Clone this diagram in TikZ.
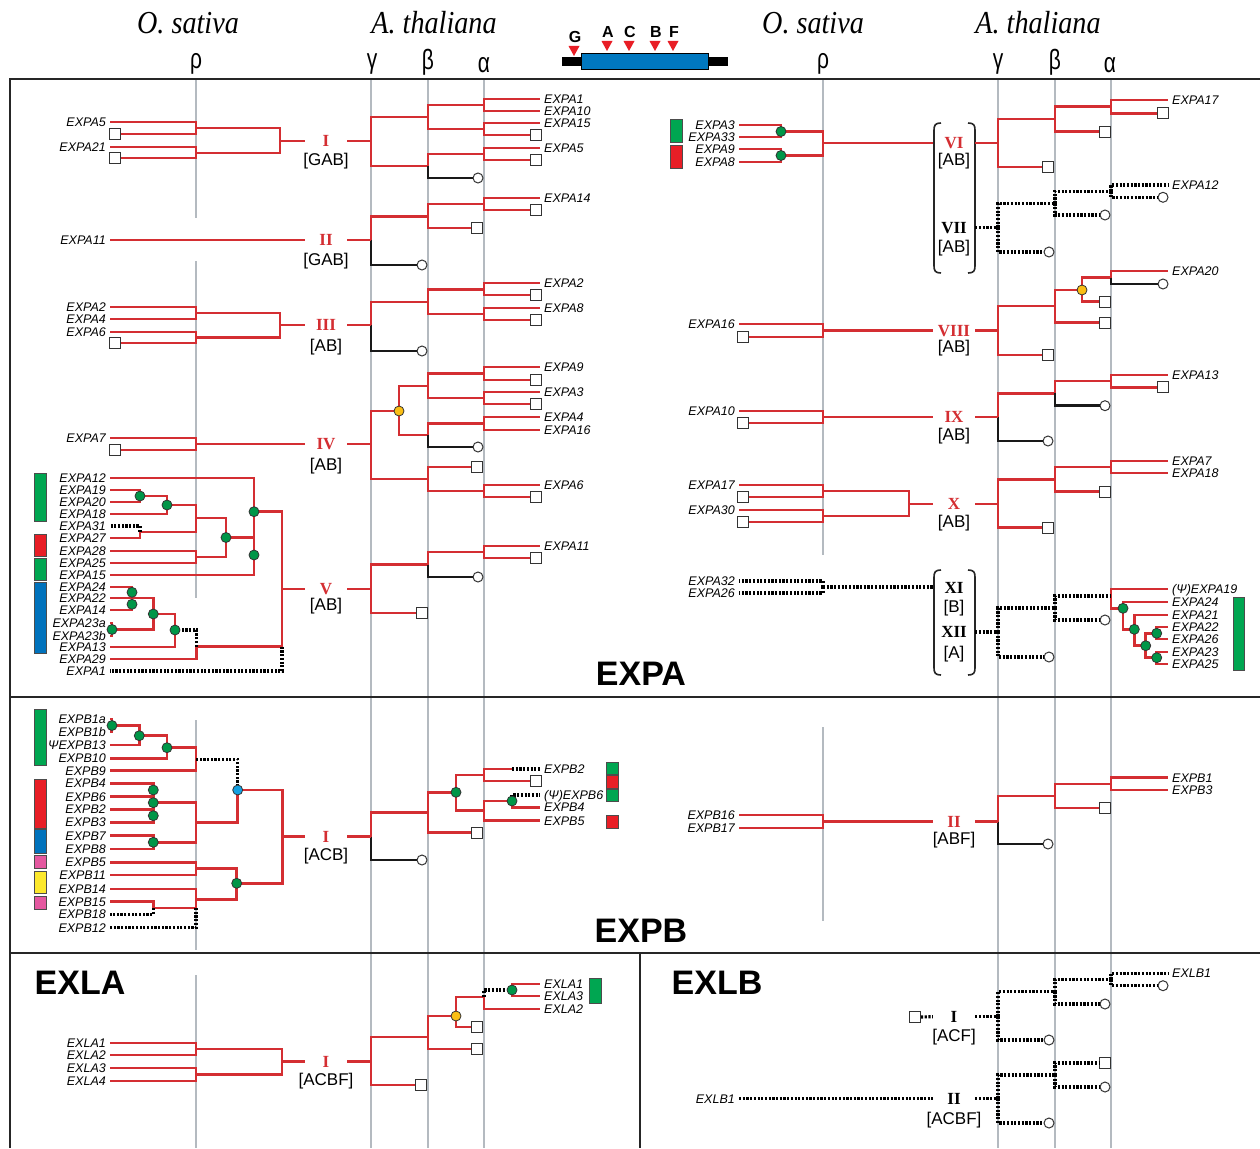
\documentclass[tikz,border=0pt]{standalone}
\usepackage{fontspec}
\setmainfont{Liberation Serif}
\setsansfont{Liberation Sans}
\usetikzlibrary{positioning}

\definecolor{treered}{RGB}{212,46,50}
\definecolor{dotgreen}{RGB}{0,150,72}
\definecolor{bargreen}{RGB}{0,166,81}
\definecolor{barred}{RGB}{232,30,38}
\definecolor{barblue}{RGB}{0,114,188}
\definecolor{barpink}{RGB}{228,88,160}
\definecolor{baryellow}{RGB}{252,232,44}
\definecolor{dotyellow}{RGB}{250,190,20}
\definecolor{dotblue}{RGB}{20,160,225}
\definecolor{axisgray}{RGB}{180,186,192}
\definecolor{exonblue}{RGB}{0,120,192}

\newcommand{\genefont}{\fontsize{12.5}{13}\selectfont\sffamily\itshape}
\newcommand{\cladefont}{\fontsize{17}{17}\selectfont\rmfamily\bfseries}
\newcommand{\motiffont}{\fontsize{17}{17}\selectfont\sffamily}

\tikzset{
  tr/.style={draw=treered, line width=2.9pt},
  tk/.style={draw=black!90, line width=2.6pt},
  td/.style={draw=black, line width=3.2pt, dash pattern=on 2.2pt off 1.5pt},
  axisline/.style={draw=axisgray, line width=1.1pt},
  frame/.style={draw=black!85, line width=2.4pt},
  sq/.style={draw=black!80, fill=white, line width=1pt, minimum size=11pt, inner sep=0pt},
  lost/.style={circle, draw=black!80, fill=white, line width=1pt, minimum size=10pt, inner sep=0pt},
  gdot/.style={circle, draw=black!80, fill=dotgreen, line width=0.8pt, minimum size=10pt, inner sep=0pt},
  ydot/.style={gdot, fill=dotyellow},
  bdot/.style={gdot, fill=dotblue},
  gl/.style={anchor=east, font=\genefont, inner xsep=4pt, inner ysep=0pt, text height=9pt, text depth=0pt},
  gr/.style={gl, anchor=west},
  clade/.style={font=\cladefont, text=treered, minimum width=42pt, inner sep=0pt, text height=11.5pt, text depth=0pt},
  cladek/.style={clade, text=black},
  motifs/.style={font=\motiffont, inner sep=0pt},
  family/.style={font=\fontsize{34}{34}\selectfont\sffamily\bfseries},
  species/.style={font=\fontsize{32}{32}\selectfont\rmfamily\itshape},
  greek/.style={font=\fontsize{28}{28}\selectfont\sffamily},
  sitelab/.style={font=\fontsize{16}{16}\selectfont\sffamily\bfseries},
  brk/.style={draw=black!85, line width=1.6pt},
  bar/.style={draw=black!70, line width=0.8pt},
}

\begin{document}
\begin{tikzpicture}[x=1pt,y=-1pt]
\fill[white] (0,0) rectangle (1260,1148);
\useasboundingbox (0,0) rectangle (1260,1148);

% Axis lines (rho, gamma, beta, alpha)
\foreach \x/\ya/\yb in {196/79/218, 196/261/598, 196/720/950, 196/975/1148,
  371/79/1148, 428/79/1148, 484/79/1148, 823/79/555, 823/727/921,
  998/79/1148, 1055/79/1148, 1111/79/1148}
  \draw[axisline] (\x,\ya) -- (\x,\yb);

% Frame
\draw[frame] (1260,79) -- (10,79) -- (10,1148);
\draw[frame] (10,697) -- (1260,697);
\draw[frame] (10,953) -- (1260,953);
\draw[frame] (640,953) -- (640,1148);

% Header
\node[species] (osL) at (188,23) {\scalebox{0.88}[1]{O. sativa}};
\node[species] (atL) at (434,23) {\scalebox{0.88}[1]{A. thaliana}};
\node[species] (osR) at (813,23) {\scalebox{0.88}[1]{O. sativa}};
\node[species] (atR) at (1038,23) {\scalebox{0.88}[1]{A. thaliana}};
\foreach \x/\y/\g in {196/64/ρ, 372/64/γ, 428/62/β, 484/65/α, 823/64/ρ, 998/64/γ, 1055/62/β, 1110/65/α}
  \node[greek] at (\x,\y) {\scalebox{0.75}[1]{\g}};

% Gene structure with intron sites
\fill[black] (562,57) rectangle (728,66);
\draw[fill=exonblue, line width=0.9pt] (581,53) rectangle (708,69);
\foreach \x/\y/\t in {574/46/G, 607/41/A, 629/41/C, 655/41/B, 673/41/F}{
  \fill[barred] (\x-5.5,\y) -- (\x+5.5,\y) -- (\x,\y+10) -- cycle;
  \node[sitelab] at (\x+1,\y-9) {\t};
}

% ===================== EXPA, left panel =====================
\foreach \n/\y/\t in {LA5/122/EXPA5, LA21/147/EXPA21, LA11/240/EXPA11, LA2/307/EXPA2,
  LA4/319/EXPA4, LA6/332/EXPA6, LA7/438/EXPA7, LA12/478/EXPA12, LA19/490/EXPA19,
  LA20/502/EXPA20, LA18/514/EXPA18, LA31/526/EXPA31, LA27/538/EXPA27, LA28/551/EXPA28,
  LA25/563/EXPA25, LA15/575/EXPA15, LA24/587/EXPA24, LA22/598/EXPA22, LA14/610/EXPA14,
  LA23a/623/EXPA23a, LA23b/636/EXPA23b, LA13/647/EXPA13, LA29/659/EXPA29, LA1/671/EXPA1}
  \node[gl] (\n) at (110,\y) {\t};
\foreach \n/\y in {Lq1/134, Lq2/158, Lq3/343, Lq4/450}
  \node[sq] (\n) at (115,\y) {};
\foreach \n/\x/\y in {L1/196/128, L2/196/153, L3/280/141, L4/196/313, L5/196/337.5,
  L6/280/325, L7/196/444, V1/140/496, V2/167/505, V3/140/532, V4/196/518, V5/196/557,
  V6/226/537.5, V7/254/555, V8/254/511.7, V9/132/592.3, V9b/132/604.3, V10/153.3/614,
  V11/112/629.5, V12/175/630, V13/196.7/646.7, V14/282/589, V15/282/646.7}
  \coordinate (\n) at (\x,\y);

\foreach \n/\y/\t in {MA1/99/EXPA1, MA10/111/EXPA10, MA15/123/EXPA15, MA5/148/EXPA5,
  MA14/198/EXPA14, MA2/283/EXPA2, MA8/308/EXPA8, MA9/367/EXPA9, MA3/392/EXPA3,
  MA4/417/EXPA4, MA16/430/EXPA16, MA6/485/EXPA6, MA11/546/EXPA11}
  \node[gr] (\n) at (540,\y) {\t};
\foreach \n/\x/\y in {Mq1/536/135, Mq2/536/160, Mq3/536/210, Mq4/477/228, Mq5/536/295,
  Mq6/536/320, Mq7/536/380, Mq8/536/404, Mq9/477/467, Mq10/536/497, Mq11/536/558, Mq12/422/613}
  \node[sq] (\n) at (\x,\y) {};
\foreach \n/\x/\y in {Mo1/478/178, Mo2/422/265, Mo3/422/351, Mo4/478/447, Mo5/478/577}
  \node[lost] (\n) at (\x,\y) {};
\foreach \n/\x/\y in {Ig/371/141, Ib1/428/117, Ib2/428/166, Ia1/484/105, Ia2/484/129,
  Ia3/484/154, IIg/371/240, IIb/428/216.5, IIa/484/204, IIIg/371/325, IIIb/428/302,
  IIIa1/484/289.5, IIIa2/484/314, IVg/371/444, IVy/399/411, IVb1/428/386, IVb2/428/435,
  IVb3/428/479, IVa1/484/373.5, IVa2/484/398, IVa3/484/423.5, IVa4/484/491,
  Vg/371/589, Vb/428/564.5, Va/484/552}
  \coordinate (\n) at (\x,\y);

% clade labels
\foreach \n/\y/\t in {I/141/I, II/240/II, III/325/III, IV/444/IV, V/589/V}
  \node[clade] (c\n) at (326,\y) {\t};
\foreach \y/\t in {161/[GAB], 261/[GAB], 347/[AB], 466/[AB], 606/[AB]}
  \node[motifs] at (326,\y) {\t};

% branches
\foreach \a/\b in {L1/LA5, L1/Lq1, L2/LA21, L2/Lq2, L3/L1, L3/L2, L4/LA2, L4/LA4,
  L5/LA6, L5/Lq3, L6/L4, L6/L5, L7/LA7, L7/Lq4, V1/LA19, V1/LA20, V2/V1, V2/LA18,
  V3/LA27, V4/V2, V4/V3, V5/LA28, V5/LA25, V6/V4, V6/V5, V7/V6, V7/LA15, V8/LA12,
  V8/V7, V9/LA24, V9b/LA14, V9/V9b, V10/LA22, V10/V11, V11/LA23a, V11/LA23b,
  V12/V10, V12/LA13, V13/LA29, V14/V8, V14/V13,
  Ig/Ib1, Ig/Ib2, Ib1/Ia1, Ib1/Ia2, Ia1/MA1, Ia1/MA10, Ia2/MA15, Ia2/Mq1, Ib2/Ia3,
  Ia3/MA5, Ia3/Mq2, IIg/IIb, IIb/IIa, IIb/Mq4, IIa/MA14, IIa/Mq3, IIIg/IIIb,
  IIIb/IIIa1, IIIb/IIIa2, IIIa1/MA2, IIIa1/Mq5, IIIa2/MA8, IIIa2/Mq6, IVg/IVy,
  IVg/IVb3, IVy/IVb1, IVy/IVb2, IVb1/IVa1, IVb1/IVa2, IVa1/MA9, IVa1/Mq7, IVa2/MA3,
  IVa2/Mq8, IVb2/IVa3, IVa3/MA4, IVa3/MA16, IVb3/Mq9, IVb3/IVa4, IVa4/MA6, IVa4/Mq10,
  Vg/Vb, Vg/Mq12, Vb/Va, Va/MA11, Va/Mq11}
  \draw[tr] (\a) |- (\b);
\foreach \a/\b in {Ib2/Mo1, IIg/Mo2, IIIg/Mo3, IVb2/Mo4, Vb/Mo5}
  \draw[tk] (\a) |- (\b);
\foreach \a/\b in {V3/LA31, V13/V12, V15/LA1}
  \draw[td] (\a) |- (\b);
\foreach \a/\b/\c in {L3/cI/Ig, LA11/cII/IIg, L6/cIII/IIIg, L7/cIV/IVg, V14/cV/Vg}{
  \draw[tr] (\a) -- (\b);
  \draw[tr] (\b) -- (\c);
}
\foreach \n in {V1, V2, V6, V7, V8, V9, V9b, V10, V11, V12}
  \node[gdot] at (\n) {};
\node[ydot] at (IVy) {};
\foreach \c/\ya/\yb in {bargreen/473/521, barred/534/556, bargreen/558/580, barblue/582/653}
  \draw[bar, fill=\c] (34,\ya) rectangle (46.5,\yb);

\node[family] (famA) at (641,674) {EXPA};

% ===================== EXPA, right panel =====================
\foreach \n/\y/\t in {RA3/125/EXPA3, RA33/137/EXPA33, RA9/149/EXPA9, RA8/162/EXPA8,
  RA16/324/EXPA16, RA10/411/EXPA10, RA17/485/EXPA17, RA30/510/EXPA30,
  RA32/581/EXPA32, RA26/593/EXPA26}
  \node[gl] (\n) at (739,\y) {\t};
\foreach \n/\y in {Rq1/337, Rq2/423, Rq3/497, Rq4/522}
  \node[sq] (\n) at (743,\y) {};
\foreach \n/\x/\y in {R1/781/131.5, R2/781/155.5, R3/823/143, R4/823/330.5, R5/823/417,
  R6/823/491, R7/823/516, R8/909/504, R9/823/587}
  \coordinate (\n) at (\x,\y);

\foreach \n/\y/\t in {SA17/100/EXPA17, SA12/185/EXPA12, SA20/271/EXPA20, SA13/375/EXPA13,
  SA7/461/EXPA7, SA18/473/EXPA18, SA19/589/{(Ψ)EXPA19}, SA24/602/EXPA24, SA21/615/EXPA21,
  SA22/627/EXPA22, SA26/639/EXPA26, SA23/652/EXPA23, SA25/664/EXPA25}
  \node[gr] (\n) at (1168,\y) {\t};
\foreach \n/\x/\y in {Sq1/1163/113.3, Sq2/1105/131.7, Sq3/1048/167, Sq4/1105/301.7,
  Sq5/1105/322.7, Sq6/1048/355, Sq7/1163/387.3, Sq8/1105/491.7, Sq9/1048/527.7}
  \node[sq] (\n) at (\x,\y) {};
\foreach \n/\x/\y in {So1/1163/197.3, So2/1105/215, So3/1049/252, So4/1163/284,
  So5/1105/405.7, So6/1048/441, So7/1105/620, So8/1049/657}
  \node[lost] (\n) at (\x,\y) {};
\foreach \n/\x/\y in {VIg/998/143, VIb/1055/119, VIa/1111/106.7, VIIg/998/227.5,
  VIIb/1055/203.3, VIIa/1111/191.3, VIIIg/998/330.5, VIIIb/1055/306, VIIIy/1082/290,
  VIIIa/1111/277.5, IXg/998/417, IXb/1055/393.3, IXa/1111/381, Xg/998/504,
  Xb/1055/479.5, Xa/1111/467, XIg/998/632, XIb/1055/608, XIa/1111/596,
  G1/1123/608.3, G2/1134.3/629.3, G3/1145.7/645.7, G4/1156.7/633.3, G5/1156.7/657.7}
  \coordinate (\n) at (\x,\y);

\foreach \n/\y/\t in {VI/143/VI, VIII/330.5/VIII, IX/417/IX, X/504/X}
  \node[clade] (c\n) at (954,\y) {\t};
\foreach \n/\y/\t in {VII/227.5/VII, XI/588/XI, XII/632/XII}
  \node[cladek] (c\n) at (954,\y) {\t};
\foreach \y/\t in {161/[AB], 248/[AB], 348/[AB], 436/[AB], 523/[AB], 608/[B], 654/[A]}
  \node[motifs] at (954,\y) {\t};

% brackets round VI/VII and XI/XII
\foreach \ya/\yb in {123/273, 570/675}{
  \draw[brk] (941,\ya) .. controls (935.5,\ya) and (934,\ya+2) .. (934,\ya+7)
    -- (934,\yb-7) .. controls (934,\yb-2) and (935.5,\yb) .. (941,\yb);
  \draw[brk] (968,\ya) .. controls (973.5,\ya) and (975,\ya+2) .. (975,\ya+7)
    -- (975,\yb-7) .. controls (975,\yb-2) and (973.5,\yb) .. (968,\yb);
}

\foreach \a/\b in {R1/RA3, R1/RA33, R2/RA9, R2/RA8, R3/R1, R3/R2, R4/RA16, R4/Rq1,
  R5/RA10, R5/Rq2, R6/RA17, R6/Rq3, R7/RA30, R7/Rq4, R8/R6, R8/R7,
  VIg/VIb, VIg/Sq3, VIb/VIa, VIb/Sq2, VIa/SA17, VIa/Sq1, VIIIg/VIIIb, VIIIg/Sq6,
  VIIIb/VIIIy, VIIIb/Sq5, VIIIy/VIIIa, VIIIy/Sq4, VIIIa/SA20, IXg/IXb, IXb/IXa,
  IXa/SA13, IXa/Sq7, Xg/Xb, Xg/Sq9, Xb/Xa, Xb/Sq8, Xa/SA7, Xa/SA18, XIa/SA19, XIa/G1,
  G1/SA24, G1/G2, G2/SA21, G2/G3, G3/G4, G3/G5, G4/SA22, G4/SA26, G5/SA23, G5/SA25}
  \draw[tr] (\a) |- (\b);
\foreach \a/\b in {VIIIa/So4, IXg/So6, IXb/So5}
  \draw[tk] (\a) |- (\b);
\foreach \a/\b in {R9/RA32, R9/RA26, VIIg/VIIb, VIIg/So3, VIIb/VIIa, VIIb/So2,
  VIIa/SA12, VIIa/So1, XIg/XIb, XIg/So8, XIb/XIa, XIb/So7}
  \draw[td] (\a) |- (\b);
\draw[tr] (R3) -- (cVI);
\draw[tr] (cVI) -- (VIg);
\draw[td] (cVII) -- (VIIg);
\foreach \a/\b/\c in {R4/cVIII/VIIIg, R5/cIX/IXg, R8/cX/Xg}{
  \draw[tr] (\a) -- (\b);
  \draw[tr] (\b) -- (\c);
}
\draw[td] (R9) -- (934,587);
\draw[td] (cXII) -- (XIg);
\foreach \n in {R1, R2, G1, G2, G3, G4, G5}
  \node[gdot] at (\n) {};
\node[ydot] at (VIIIy) {};
\draw[bar, fill=bargreen] (670.5,119.3) rectangle (682.5,142.7);
\draw[bar, fill=barred] (670.5,145) rectangle (682.5,168.3);
\draw[bar, fill=bargreen] (1233,597) rectangle (1244.5,670);

% ===================== EXPB, left panel =====================
\foreach \n/\y/\t in {LB1a/719/EXPB1a, LB1b/731.7/EXPB1b, LB13/745/ΨEXPB13,
  LB10/758.3/EXPB10, LB9/770.7/EXPB9, LB4/783.3/EXPB4, LB6/796.7/EXPB6,
  LB2/809.3/EXPB2, LB3/822.3/EXPB3, LB7/835.7/EXPB7, LB8/849/EXPB8, LB5/862.3/EXPB5,
  LB11/875/EXPB11, LB14/889/EXPB14, LB15/901.7/EXPB15, LB18/914.3/EXPB18,
  LB12/927.7/EXPB12}
  \node[gl] (\n) at (110,\y) {\t};
\foreach \n/\x/\y in {B1/112/725.5, B2/139.3/735.7, B3/167/747.7, B4/196/759.3,
  B5/153.3/802.7, B5a/153.3/790, B5c/153.3/815.7, B6/153.3/842.3, B7/196/822.5,
  B8/237.7/790, B9/196/868.5, B10/153.3/908, B11/196/899.3, B11b/196/908,
  B12/236.7/883.3, B13/282.7/836.5}
  \coordinate (\n) at (\x,\y);

\foreach \n/\y/\t in {MB2/769/EXPB2, MB6/795/{(Ψ)EXPB6}, MB4/807.3/EXPB4, MB5/820.7/EXPB5}
  \node[gr] (\n) at (540,\y) {\t};
\node[sq] (Mq13) at (536,781) {};
\node[sq] (Mq14) at (477,832.7) {};
\node[lost] (Mo6) at (422,860) {};
\foreach \n/\x/\y in {BIg/371/836.5, BIb/428/812.3, BIn/456/792.3, BIa1/484/775,
  BIa2/484/810.3, BIm/512/801, MB2c/512/769}
  \coordinate (\n) at (\x,\y);

\node[clade] (cBI) at (326,836.5) {I};
\node[motifs] at (326,856) {[ACB]};

\foreach \a/\b in {B1/LB1a, B1/LB1b, B2/B1, B2/LB13, B3/B2, B3/LB10, B4/B3, B4/LB9,
  B5/LB4, B5/LB6, B5/LB2, B5/LB3, B6/LB7, B6/LB8, B7/B5, B7/B6, B8/B7, B9/LB5,
  B9/LB11, B10/LB15, B11/LB14, B11/B10, B12/B9, B12/B11, B13/B8, B13/B12,
  BIg/BIb, BIb/BIn, BIb/Mq14, BIn/BIa1, BIn/BIa2, BIa1/MB2c, BIa1/Mq13, BIa2/BIm,
  BIa2/MB5, BIm/MB4}
  \draw[tr] (\a) |- (\b);
\draw[tk] (BIg) |- (Mo6);
\foreach \a/\b in {B8/B4, B10/LB18, B11b/LB12, BIm/MB6}
  \draw[td] (\a) |- (\b);
\draw[td] (MB2c) -- (MB2);
\draw[tr] (B13) -- (cBI);
\draw[tr] (cBI) -- (BIg);
\foreach \n in {B1, B2, B3, B5a, B5, B5c, B6, B12, BIn, BIm}
  \node[gdot] at (\n) {};
\node[bdot] at (B8) {};
\foreach \c/\ya/\yb in {bargreen/709/765, barred/779/828, barblue/829/853,
  barpink/855/868, baryellow/871/893, barpink/896/909}
  \draw[bar, fill=\c] (34,\ya) rectangle (46.5,\yb);
\foreach \c/\ya in {bargreen/762, barred/775.5, bargreen/789, barred/815.5}
  \draw[bar, fill=\c] (606.5,\ya) rectangle ++(12,12.5);

\node[family] (famB) at (641,931) {EXPB};

% ===================== EXPB, right panel =====================
\node[gl] (RB16) at (739,815) {EXPB16};
\node[gl] (RB17) at (739,828) {EXPB17};
\node[gr] (SB1) at (1168,777.7) {EXPB1};
\node[gr] (SB3) at (1168,790) {EXPB3};
\node[sq] (Sq10) at (1105,808) {};
\node[lost] (So9) at (1048,844) {};
\foreach \n/\x/\y in {RBn/823/821.5, BIIg/998/821.5, BIIb/1055/796, BIIa/1111/784}
  \coordinate (\n) at (\x,\y);
\node[clade] (cBII) at (954,821.5) {II};
\node[motifs] at (954,840) {[ABF]};
\foreach \a/\b in {RBn/RB16, RBn/RB17, BIIg/BIIb, BIIb/BIIa, BIIb/Sq10, BIIa/SB1, BIIa/SB3}
  \draw[tr] (\a) |- (\b);
\draw[tk] (BIIg) |- (So9);
\draw[tr] (RBn) -- (cBII);
\draw[tr] (cBII) -- (BIIg);

% ===================== EXLA =====================
\node[family] (famLA) at (80,983) {EXLA};
\foreach \n/\y/\t in {LL1/1043/EXLA1, LL2/1055/EXLA2, LL3/1068/EXLA3, LL4/1081/EXLA4}
  \node[gl] (\n) at (110,\y) {\t};
\foreach \n/\y/\t in {ML1/984/EXLA1, ML3/996/EXLA3, ML2/1009/EXLA2}
  \node[gr] (\n) at (540,\y) {\t};
\foreach \n/\x/\y in {Lq5/421/1085, Lq6/477/1049, Lq7/477/1027}
  \node[sq] (\n) at (\x,\y) {};
\foreach \n/\x/\y in {LAn1/196/1049, LAn2/196/1074.5, LAn3/282/1061.5, LAg/371/1061.5,
  LAb/428/1037, LAy/456/1016, LAa/484/997, LAG/512/990}
  \coordinate (\n) at (\x,\y);
\node[clade] (cLAI) at (326,1061.5) {I};
\node[motifs] at (326,1081) {[ACBF]};
\foreach \a/\b in {LAn1/LL1, LAn1/LL2, LAn2/LL3, LAn2/LL4, LAn3/LAn1, LAn3/LAn2,
  LAg/LAb, LAg/Lq5, LAb/LAy, LAb/Lq6, LAy/LAa, LAy/Lq7, LAa/ML2, LAG/ML1, LAG/ML3}
  \draw[tr] (\a) |- (\b);
\draw[td] (LAa) |- (LAG);
\draw[tr] (LAn3) -- (cLAI);
\draw[tr] (cLAI) -- (LAg);
\node[ydot] at (LAy) {};
\node[gdot] at (LAG) {};
\draw[bar, fill=bargreen] (589,978) rectangle (601,1003);

% ===================== EXLB =====================
\node[family] (famLB) at (717,983) {EXLB};
\node[sq] (Xq1) at (915,1017) {};
\node[gr] (SL1) at (1168,973.3) {EXLB1};
\node[gl] (RL1) at (739,1098.5) {EXLB1};
\node[sq] (Xq2) at (1105,1063) {};
\foreach \n/\x/\y in {Xo1/1163/985.7, Xo2/1105/1004, Xo3/1049/1040, Xo4/1105/1087, Xo5/1049/1123}
  \node[lost] (\n) at (\x,\y) {};
\foreach \n/\x/\y in {LBIg/998/1016.5, LBIb/1055/991.7, LBIa/1111/979.5,
  LBIIg/998/1098.5, LBIIb/1055/1075}
  \coordinate (\n) at (\x,\y);
\node[cladek] (cLBI) at (954,1016.5) {I};
\node[motifs] at (954,1037) {[ACF]};
\node[cladek] (cLBII) at (954,1098.5) {II};
\node[motifs] at (954,1120) {[ACBF]};
\foreach \a/\b in {LBIg/LBIb, LBIg/Xo3, LBIb/LBIa, LBIb/Xo2, LBIa/SL1, LBIa/Xo1,
  LBIIg/LBIIb, LBIIg/Xo5, LBIIb/Xq2, LBIIb/Xo4}
  \draw[td] (\a) |- (\b);
\draw[td] (Xq1) -- (cLBI);
\draw[td] (cLBI) -- (LBIg);
\draw[td] (RL1) -- (cLBII);
\draw[td] (cLBII) -- (LBIIg);

\end{tikzpicture}
\end{document}
